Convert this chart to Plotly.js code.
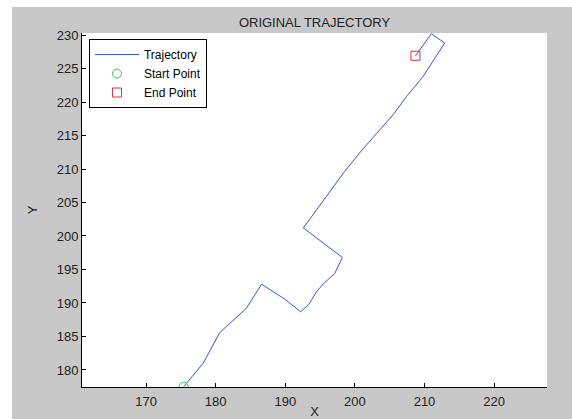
<!DOCTYPE html>
<html>
<head>
<meta charset="utf-8">
<script src="https://cdn.plot.ly/plotly-3.0.1.min.js"></script>
<style>
  html, body { margin: 0; padding: 0; background: #ffffff; width: 572px; height: 419px; overflow: hidden; }
  #chart { position: absolute; left: 12px; top: 7px; width: 560px; height: 412px; }
</style>
</head>
<body>
<div id="chart"></div>
<script>
// Trajectory points
const trajX = [175.4, 178.2, 180.6, 184.4, 186.6, 189.9, 192.2, 193.4, 194.5, 195.5, 197.1, 198.2, 192.6, 198.5, 201.0, 205.5, 207.4, 209.8, 212.9, 211.0, 208.7];
const trajY = [177.5, 181.0, 185.6, 189.2, 192.8, 190.6, 188.7, 189.8, 191.7, 192.9, 194.4, 196.8, 201.2, 209.6, 212.8, 218.1, 220.8, 223.8, 228.8, 230.2, 226.9];
const startX = [175.4];
const startY = [177.5];
const endX = [208.7];
const endY = [226.9];
const xTicks = [170, 180, 190, 200, 210, 220];
const yTicks = [180, 185, 190, 195, 200, 205, 210, 215, 220, 225, 230];

const FONT = "Liberation Sans, Arial, sans-serif";

const traces = [
  { x: trajX, y: trajY, mode: 'lines', name: 'Trajectory',
    line: { color: 'rgb(55,85,205)', width: 1 } },
  { x: startX, y: startY, mode: 'markers', name: 'Start Point',
    marker: { symbol: 'circle-open', size: 9, color: '#3fc03f', line: { width: 1 } } },
  { x: endX, y: endY, mode: 'markers', name: 'End Point',
    marker: { symbol: 'square-open', size: 9, color: '#e0303a', line: { width: 1 } } }
];

const layout = {
  width: 560, height: 412,
  paper_bgcolor: '#c8c8c8',
  plot_bgcolor: '#ffffff',
  margin: { l: 70, r: 25, t: 26, b: 32 },
  font: { family: FONT, size: 13, color: '#222222' },
  title: { text: 'ORIGINAL TRAJECTORY', font: { family: FONT, size: 13, color: '#222222' },
           x: 0.5, xanchor: 'center', xref: 'paper', y: 1 - 15/412, yref: 'container', yanchor: 'middle' },
  xaxis: {
    range: [160.8, 227.6], tickvals: xTicks, ticktext: xTicks.map(String),
    showgrid: false, zeroline: false, showline: true, linecolor: '#000000', linewidth: 1,
    ticks: 'inside', ticklen: 4, tickcolor: '#000000', tickwidth: 1,
    tickfont: { family: FONT, size: 13, color: '#222222' },
    ticklabelstandoff: 2,
    title: { text: 'X', font: { family: FONT, size: 13, color: '#222222' }, standoff: 3 }
  },
  yaxis: {
    range: [177.46, 230.3], tickvals: yTicks, ticktext: yTicks.map(String),
    showgrid: false, zeroline: false, showline: true, linecolor: '#000000', linewidth: 1,
    ticks: 'inside', ticklen: 4, tickcolor: '#000000', tickwidth: 1,
    tickfont: { family: FONT, size: 13, color: '#222222' },
    title: { text: 'Y', font: { family: FONT, size: 13, color: '#222222' }, standoff: 16 }
  },
  showlegend: true,
  legend: {
    x: 0.015, y: 0.983, xanchor: 'left', yanchor: 'top',
    bgcolor: '#ffffff', bordercolor: '#000000', borderwidth: 1,
    font: { family: FONT, size: 12, color: '#000000' },
    itemwidth: 44,
    tracegroupgap: 0
  }
};

Plotly.newPlot('chart', traces, layout, { staticPlot: true, displayModeBar: false });
</script>
</body>
</html>
